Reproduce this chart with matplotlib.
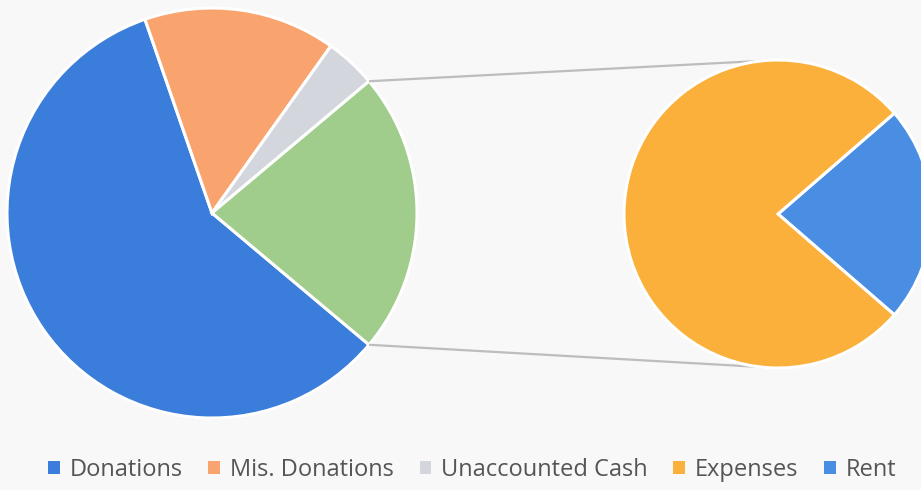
import numpy as np
import matplotlib
matplotlib.use("Agg")
import matplotlib.pyplot as plt

# Data
main_labels = ["Donations", "Mis. Donations", "Unaccounted Cash"]
main_values = [58, 15, 4]
sub_labels = ["Expenses", "Rent"]
sub_values = [17, 5]

main_colors = ["#3A7DDB", "#F9A46E", "#D4D6DE"]
other_color = "#A0CC8C"
sub_colors = ["#FBB03B", "#4A8EE3"]

plt.rcParams['font.family'] = ['Open Sans', 'DejaVu Sans']

W, H = 921, 490
fig = plt.figure(figsize=(W / 100, H / 100), dpi=100)
fig.patch.set_facecolor("#F8F8F8")
ax = fig.add_axes([0, 0, 1, 1])
ax.set_facecolor("#F8F8F8")

other = sum(sub_values)
total = sum(main_values) + other
other_deg = other / total * 360.0

# Main pie: "Other" slice centered at 0 deg on the right, drawn clockwise
vals = main_values + [other]
cols = main_colors + [other_color]
c1 = (212, H - 213)
r1 = 205
start = -other_deg / 2
wedges, _ = ax.pie(vals, colors=cols, startangle=start, counterclock=False,
                   center=c1, radius=r1, frame=True,
                   wedgeprops=dict(edgecolor="white", linewidth=2.2))

# Secondary pie
c2 = (778, H - 214)
r2 = 154
rent_deg = sub_values[1] / other * 360.0
sub_wedges, _ = ax.pie(sub_values[::-1], colors=sub_colors[::-1], startangle=-rent_deg / 2,
                       counterclock=True, center=c2, radius=r2, frame=True,
                       wedgeprops=dict(edgecolor="white", linewidth=2.2))
for w in sub_wedges:
    w.set_zorder(3)

# Connector lines
a_top = np.deg2rad(other_deg / 2)
a_bot = np.deg2rad(-other_deg / 2)
ax.plot([c1[0] + r1 * np.cos(a_top), c2[0]], [c1[1] + r1 * np.sin(a_top), c2[1] + r2],
        color="#BDBDBD", lw=1.6, zorder=1, solid_capstyle="butt")
ax.plot([c1[0] + r1 * np.cos(a_bot), c2[0]], [c1[1] + r1 * np.sin(a_bot), c2[1] - r2],
        color="#BDBDBD", lw=1.6, zorder=1, solid_capstyle="butt")

ax.set_xlim(0, W)
ax.set_ylim(0, H)
ax.set_aspect("equal")
ax.axis("off")

handles = list(wedges[:3]) + [sub_wedges[1], sub_wedges[0]]
labels = main_labels + sub_labels
leg = fig.legend(handles, labels, loc="center", bbox_to_anchor=(472 / W, 1 - 470 / H),
                 ncol=5, frameon=False, fontsize=17, handlelength=0.5, handleheight=0.5,
                 handletextpad=0.4, columnspacing=1.1, labelcolor="#555555")
for h in leg.legend_handles:
    h.set_edgecolor("none")

fig.savefig("out.png", dpi=100, facecolor=fig.get_facecolor())
